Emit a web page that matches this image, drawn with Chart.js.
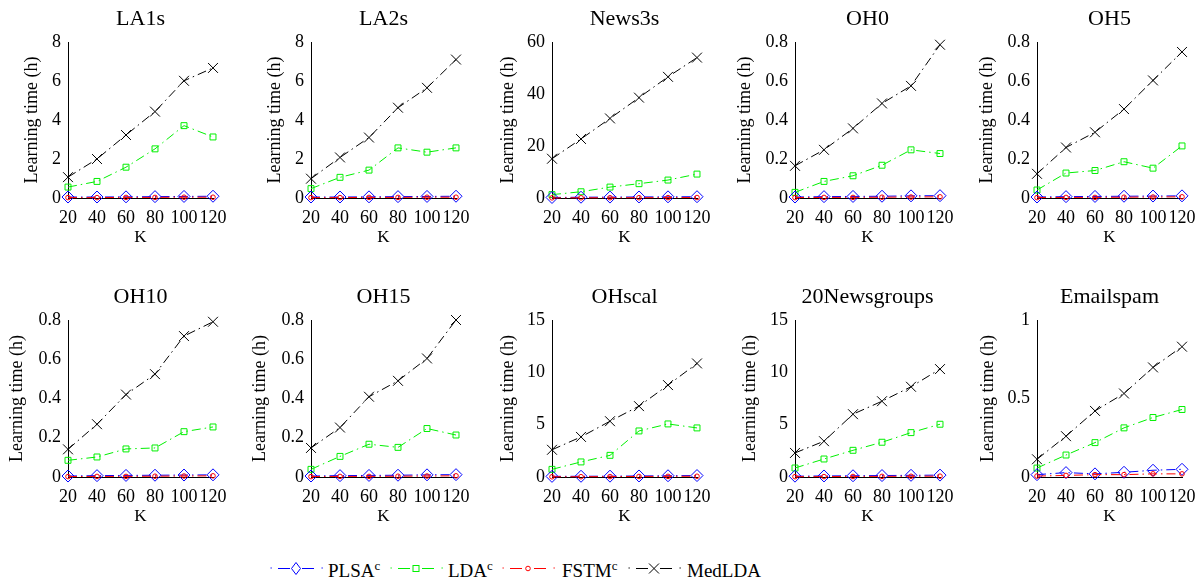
<!DOCTYPE html>
<html><head><meta charset="utf-8">
<script src="https://cdn.jsdelivr.net/npm/chart.js@4/dist/chart.umd.min.js"></script>
<style>
body{margin:0;background:#fff;width:1197px;height:579px;overflow:hidden;position:relative;font-family:'Liberation Serif','Times New Roman',serif;}
canvas{position:absolute;}
.lt{position:absolute;top:561px;font-size:19px;line-height:19px;color:#000;white-space:nowrap;}
.lt sup{font-size:13px;line-height:0;vertical-align:7px;}
.ls{position:absolute;top:561px;}
</style></head><body>
<script>
// ---- data ----
const K = [20, 40, 60, 80, 100, 120];
const titles = ['LA1s','LA2s','News3s','OH0','OH5','OH10','OH15','OHscal','20Newsgroups','Emailspam'];
const yMax  = [8, 8, 60, 0.8, 0.8, 0.8, 0.8, 15, 15, 1];
const yStep = [2, 2, 20, 0.2, 0.2, 0.2, 0.2, 5, 5, 0.5];

const plsaLA1s   = [0.05, 0.05, 0.06, 0.07, 0.08, 0.09];
const ldaLA1s    = [0.56, 0.85, 1.58, 2.52, 3.71, 3.13];
const fstmLA1s   = [0.02, 0.02, 0.03, 0.03, 0.04, 0.04];
const medldaLA1s = [1.07, 2.0, 3.23, 4.43, 6.01, 6.67];

const plsaLA2s   = [0.05, 0.05, 0.06, 0.07, 0.08, 0.09];
const ldaLA2s    = [0.48, 1.06, 1.43, 2.57, 2.35, 2.57];
const fstmLA2s   = [0.02, 0.02, 0.03, 0.03, 0.04, 0.04];
const medldaLA2s = [0.99, 2.08, 3.1, 4.63, 5.65, 7.1];

const plsaNews3s   = [0.2, 0.3, 0.35, 0.4, 0.45, 0.5];
const ldaNews3s    = [1.3, 2.4, 4.2, 5.5, 6.9, 9.2];
const fstmNews3s   = [0.05, 0.08, 0.1, 0.12, 0.15, 0.18];
const medldaNews3s = [15.1, 22.7, 30.6, 38.6, 46.6, 54.0];

const plsaOH0   = [0.005, 0.007, 0.008, 0.009, 0.011, 0.012];
const ldaOH0    = [0.029, 0.085, 0.114, 0.168, 0.247, 0.228];
const fstmOH0   = [0.002, 0.003, 0.003, 0.004, 0.005, 0.006];
const medldaOH0 = [0.165, 0.247, 0.357, 0.485, 0.575, 0.786];

const plsaOH5   = [0.005, 0.007, 0.008, 0.009, 0.010, 0.011];
const ldaOH5    = [0.041, 0.128, 0.141, 0.186, 0.153, 0.267];
const fstmOH5   = [0.002, 0.003, 0.003, 0.004, 0.005, 0.006];
const medldaOH5 = [0.124, 0.259, 0.337, 0.456, 0.603, 0.749];

const plsaOH10   = [0.005, 0.007, 0.008, 0.009, 0.010, 0.011];
const ldaOH10    = [0.085, 0.102, 0.143, 0.148, 0.231, 0.255];
const fstmOH10   = [0.002, 0.003, 0.003, 0.004, 0.005, 0.006];
const medldaOH10 = [0.141, 0.269, 0.42, 0.524, 0.718, 0.791];

const plsaOH15   = [0.005, 0.007, 0.008, 0.009, 0.011, 0.012];
const ldaOH15    = [0.039, 0.105, 0.167, 0.151, 0.247, 0.214];
const fstmOH15   = [0.002, 0.003, 0.003, 0.004, 0.005, 0.006];
const medldaOH15 = [0.148, 0.252, 0.409, 0.49, 0.604, 0.8];

const plsaOHscal   = [0.06, 0.07, 0.08, 0.1, 0.12, 0.14];
const ldaOHscal    = [0.73, 1.44, 2.07, 4.4, 5.07, 4.69];
const fstmOHscal   = [0.02, 0.03, 0.04, 0.05, 0.06, 0.07];
const medldaOHscal = [2.6, 3.83, 5.33, 6.77, 8.78, 10.85];

const plsa20News   = [0.08, 0.1, 0.12, 0.14, 0.16, 0.18];
const lda20News    = [0.86, 1.72, 2.55, 3.32, 4.24, 5.04];
const fstm20News   = [0.03, 0.04, 0.05, 0.06, 0.07, 0.08];
const medlda20News = [2.3, 3.42, 6.0, 7.24, 8.62, 10.31];

const plsaEmail   = [0.015, 0.028, 0.02, 0.03, 0.043, 0.049];
const ldaEmail    = [0.057, 0.14, 0.219, 0.313, 0.379, 0.43];
const fstmEmail   = [0.006, 0.01, 0.015, 0.015, 0.02, 0.02];
const medldaEmail = [0.113, 0.26, 0.421, 0.532, 0.698, 0.83];

const plsaAll   = [plsaLA1s, plsaLA2s, plsaNews3s, plsaOH0, plsaOH5, plsaOH10, plsaOH15, plsaOHscal, plsa20News, plsaEmail];
const ldaAll    = [ldaLA1s, ldaLA2s, ldaNews3s, ldaOH0, ldaOH5, ldaOH10, ldaOH15, ldaOHscal, lda20News, ldaEmail];
const fstmAll   = [fstmLA1s, fstmLA2s, fstmNews3s, fstmOH0, fstmOH5, fstmOH10, fstmOH15, fstmOHscal, fstm20News, fstmEmail];
const medldaAll = [medldaLA1s, medldaLA2s, medldaNews3s, medldaOH0, medldaOH5, medldaOH10, medldaOH15, medldaOHscal, medlda20News, medldaEmail];

// ---- styles / layout ----
const FONT = "'Liberation Serif', 'Times New Roman', serif";
const DASH = [9, 4, 1.5, 4];
const seriesStyle = [
  {label: 'PLSA',   color: '#0000ff', style: 'rectRot',  radius: 6,   order: 1},
  {label: 'LDA',    color: '#00f000', style: 'rect',     radius: 4.2, order: 2},
  {label: 'FSTM',   color: '#ff0000', style: 'circle',   radius: 2.3, order: 0},
  {label: 'MedLDA', color: '#000000', style: 'crossRot', radius: 7,   order: 3}
];
const colLeft = [68, 311, 552, 795, 1037];
const rowTop = [42, 320];
const rowH = [156, 157];
const yTitleGap = [36, 36, 44, 50, 50, 51, 51, 44, 45, 49];
const PW = 145, YW = 62, TH = 42, XH = 50, PR = 24;

function makeChart(i) {
  const r = Math.floor(i / 5), col = i % 5;
  const c = document.createElement('canvas');
  const W = YW + PW + PR, H = TH + rowH[r] + XH;
  c.width = W; c.height = H;
  c.style.left = (colLeft[col] - YW) + 'px';
  c.style.top = (rowTop[r] - TH) + 'px';
  document.body.appendChild(c);
  const values = [plsaAll[i], ldaAll[i], fstmAll[i], medldaAll[i]];
  const datasets = seriesStyle.map((s, k) => ({
    label: s.label,
    data: K.map((x, j) => ({x: x, y: values[k][j]})),
    borderColor: s.color,
    borderWidth: 1,
    borderDash: DASH,
    pointStyle: s.style,
    pointRadius: s.radius,
    pointBorderColor: s.color,
    pointBackgroundColor: 'rgba(0,0,0,0)',
    pointBorderWidth: 1,
    tension: 0,
    fill: false,
    clip: false,
    order: s.order
  }));
  new Chart(c, {
    type: 'line',
    data: {datasets},
    options: {
      responsive: false, animation: false, devicePixelRatio: 1,
      layout: {padding: {left: 0, top: 0, right: PR, bottom: 0}},
      plugins: {
        legend: {display: false}, tooltip: {enabled: false},
        title: {display: true, text: titles[i], fullSize: false, color: '#000',
          font: {family: FONT, size: 22, weight: 'normal'}, padding: {top: 6, bottom: TH - 6 - 26.4}}
      },
      scales: {
        x: {type: 'linear', min: 20, max: 120,
          afterFit: s => { s.height = XH; },
          ticks: {stepSize: 20, color: '#000', font: {family: FONT, size: 18}, padding: 9, maxRotation: 0, autoSkip: false},
          grid: {display: false, drawTicks: false},
          border: {display: true, color: '#000', width: 1},
          title: {display: true, text: 'K', color: '#000', font: {family: FONT, size: 17}, padding: {top: 0, bottom: 0}}
        },
        y: {type: 'linear', min: 0, max: yMax[i],
          afterFit: s => { s.width = YW; },
          ticks: {stepSize: yStep[i], color: '#000', font: {family: FONT, size: 18}, padding: 7,
            callback: v => String(Math.round(v * 1000) / 1000)},
          grid: {display: false, drawTicks: false},
          border: {display: true, color: '#000', width: 1},
          title: {display: true, text: 'Learning time (h)', color: '#000', font: {family: FONT, size: 18},
            padding: {top: Math.max(0, YW - yTitleGap[i] - 10.8), bottom: 0}}
        }
      }
    }
  });
}
for (let i = 0; i < 10; i++) makeChart(i);

// ---- legend (HTML) ----
const legendX = [270, 390, 502, 628];
const legendTextX = [328, 448, 562, 687];
const legendSup = ['c', 'c', 'c', ''];
function markerSvg(s, cx, cy) {
  const c = s.color;
  if (s.style === 'rectRot') return `<polygon points="${cx},${cy-6} ${cx+4.5},${cy} ${cx},${cy+6} ${cx-4.5},${cy}" fill="none" stroke="${c}" stroke-width="1"/>`;
  if (s.style === 'rect') return `<rect x="${cx-3}" y="${cy-3}" width="6" height="6" fill="none" stroke="${c}" stroke-width="1"/>`;
  if (s.style === 'circle') return `<circle cx="${cx}" cy="${cy}" r="2.3" fill="none" stroke="${c}" stroke-width="1"/>`;
  return `<path d="M${cx-5},${cy-5}L${cx+5},${cy+5}M${cx-5},${cy+5}L${cx+5},${cy-5}" stroke="${c}" stroke-width="1"/>`;
}
seriesStyle.forEach((s, k) => {
  const svg = document.createElement('div');
  svg.className = 'ls';
  svg.style.left = legendX[k] + 'px';
  const cy = 6;
  svg.innerHTML = `<svg width="56" height="13" xmlns="http://www.w3.org/2000/svg">
    <rect x="0.5" y="${cy-0.5}" width="1.3" height="1" fill="${s.color}"/>
    <line x1="8" y1="${cy+0.5}" x2="20" y2="${cy+0.5}" stroke="${s.color}" stroke-width="1"/>
    <line x1="32" y1="${cy+0.5}" x2="44" y2="${cy+0.5}" stroke="${s.color}" stroke-width="1"/>
    <rect x="51.5" y="${cy-0.5}" width="1.3" height="1" fill="${s.color}"/>
    ${markerSvg(s, 26, cy + 0.5)}
  </svg>`;
  document.body.appendChild(svg);
  const t = document.createElement('div');
  t.className = 'lt';
  t.style.left = legendTextX[k] + 'px';
  t.innerHTML = s.label + (legendSup[k] ? '<sup>' + legendSup[k] + '</sup>' : '');
  document.body.appendChild(t);
});
</script>
</body></html>
